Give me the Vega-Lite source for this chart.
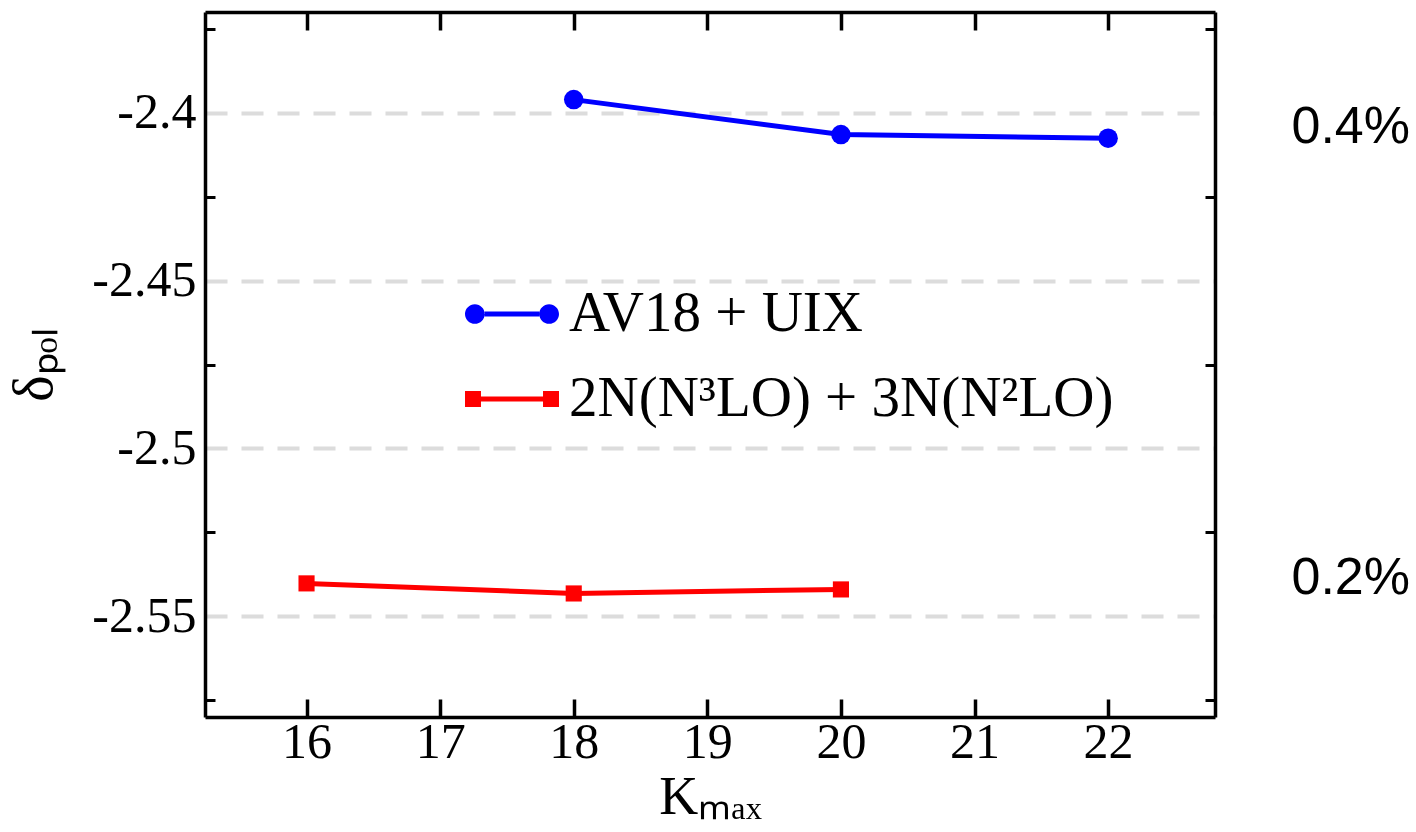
{
  "$schema": "https://vega.github.io/schema/vega-lite/v6.json",
  "width": 1010,
  "height": 705,
  "autosize": {"type": "none"},
  "padding": {"left": 205, "top": 12, "right": 201, "bottom": 115},
  "background": "white",
  "config": {"view": {"stroke": null}, "font": "Liberation Serif"},
  "data": {
    "values": [
      {"K": 18, "delta": -2.3961, "series": "AV18 + UIX"},
      {"K": 20, "delta": -2.4065, "series": "AV18 + UIX"},
      {"K": 22, "delta": -2.4076, "series": "AV18 + UIX"},
      {"K": 16, "delta": -2.5402, "series": "2N(N³LO) + 3N(N²LO)"},
      {"K": 18, "delta": -2.5432, "series": "2N(N³LO) + 3N(N²LO)"},
      {"K": 20, "delta": -2.5420, "series": "2N(N³LO) + 3N(N²LO)"}
    ]
  },
  "layer": [
    {
      "mark": {"type": "line", "strokeWidth": 5},
      "encoding": {
        "x": {
          "field": "K", "type": "quantitative",
          "scale": {"domain": [15.24, 22.8], "nice": false, "zero": false},
          "axis": {
            "orient": "bottom", "values": [16, 17, 18, 19, 20, 21, 22],
            "tickSize": -18, "tickWidth": 3.5, "tickColor": "black",
            "domain": true, "domainColor": "black", "domainWidth": 3.5,
            "grid": false,
            "labelFont": "Liberation Serif, Times New Roman, serif", "labelFontSize": 50, "labelColor": "black", "labelPadding": 18,
            "title": "Kₘₐₓ", "titleFont": "Liberation Serif, Times New Roman, serif", "titleFontSize": 54, "titleFontWeight": "normal", "titleColor": "black", "titlePadding": 3
          }
        },
        "y": {
          "field": "delta", "type": "quantitative",
          "scale": {"domain": [-2.58, -2.37], "nice": false, "zero": false},
          "axis": {
            "orient": "left",
            "values": [-2.375, -2.4, -2.425, -2.45, -2.475, -2.5, -2.525, -2.55, -2.575],
            "labelExpr": "abs(round(datum.value*1000)) % 50 == 0 ? '' + datum.value : ''",
            "tickSize": -10, "tickWidth": 3, "tickColor": "black",
            "tickOpacity": {"condition": {"test": "abs(round(datum.value*1000)) % 50 == 0", "value": 0}, "value": 1},
            "grid": true, "gridColor": "#dcdcdc", "gridWidth": 4, "gridDash": [22, 14],
            "gridOpacity": {"condition": {"test": "abs(round(datum.value*1000)) % 50 == 0", "value": 1}, "value": 0},
            "domain": true, "domainColor": "black", "domainWidth": 3.5,
            "labelFont": "Liberation Serif, Times New Roman, serif", "labelFontSize": 50, "labelColor": "black", "labelPadding": 19,
            "title": "δₚₒₗ", "titleFont": "Liberation Serif, Times New Roman, serif", "titleFontSize": 56, "titleFontWeight": "normal", "titleColor": "black", "titlePadding": 28
          }
        },
        "color": {
          "field": "series", "type": "nominal",
          "scale": {"domain": ["AV18 + UIX", "2N(N³LO) + 3N(N²LO)"], "range": ["#0000ff", "#ff0000"]},
          "legend": {
            "orient": "none", "legendX": 260, "legendY": 255, "title": null, "padding": 0,
            "labelFont": "Liberation Serif, Times New Roman, serif", "labelFontSize": 57, "labelColor": "black", "labelOffset": 10, "labelLimit": 2000,
            "symbolSize": 8836, "rowPadding": 10,
            "encode": {
              "symbols": {
                "update": {
                  "shape": {"signal": "datum.value === 'AV18 + UIX' ? 'M-1,0 A0.21,0.21 0 1,0 -0.58,0 A0.21,0.21 0 1,0 -1,0 Z M-0.58,-0.053 L0.58,-0.053 L0.58,0.053 L-0.58,0.053 Z M0.58,0 A0.21,0.21 0 1,0 1,0 A0.21,0.21 0 1,0 0.58,0 Z' : 'M-1,-0.17 L-0.66,-0.17 L-0.66,0.17 L-1,0.17 Z M-0.66,-0.053 L0.66,-0.053 L0.66,0.053 L-0.66,0.053 Z M0.66,-0.17 L1,-0.17 L1,0.17 L0.66,0.17 Z'"},
                  "fill": {"scale": "color", "field": "value"},
                  "strokeWidth": {"value": 0},
                  "opacity": {"value": 1}
                }
              }
            }
          }
        }
      }
    },
    {
      "mark": {"type": "point", "filled": true, "opacity": 1},
      "encoding": {
        "x": {
          "field": "K", "type": "quantitative",
          "axis": {
            "orient": "top", "values": [16, 17, 18, 19, 20, 21, 22],
            "tickSize": -18, "tickWidth": 3.5, "tickColor": "black",
            "domain": true, "domainColor": "black", "domainWidth": 3.5,
            "grid": false, "labels": false, "title": null
          }
        },
        "y": {
          "field": "delta", "type": "quantitative",
          "axis": {
            "orient": "right",
            "values": [-2.375, -2.404, -2.425, -2.475, -2.525, -2.5385, -2.575],
            "labelExpr": "datum.value == -2.404 ? '0.4%' : datum.value == -2.5385 ? '0.2%' : ''",
            "tickSize": -10, "tickWidth": 3, "tickColor": "black",
            "tickOpacity": {"condition": {"test": "datum.value == -2.404 || datum.value == -2.5385", "value": 0}, "value": 1},
            "domain": true, "domainColor": "black", "domainWidth": 3.5,
            "grid": false,
            "labelFont": "Liberation Sans, Arial, sans-serif", "labelFontSize": 52, "labelColor": "black", "labelPadding": 86,
            "title": null
          }
        },
        "color": {"field": "series", "type": "nominal", "legend": null},
        "shape": {"condition": {"test": "datum.series === 'AV18 + UIX'", "value": "circle"}, "value": "square"},
        "size": {"condition": {"test": "datum.series === 'AV18 + UIX'", "value": 380}, "value": 260}
      }
    }
  ],
  "resolve": {"axis": {"x": "independent", "y": "independent"}}
}
